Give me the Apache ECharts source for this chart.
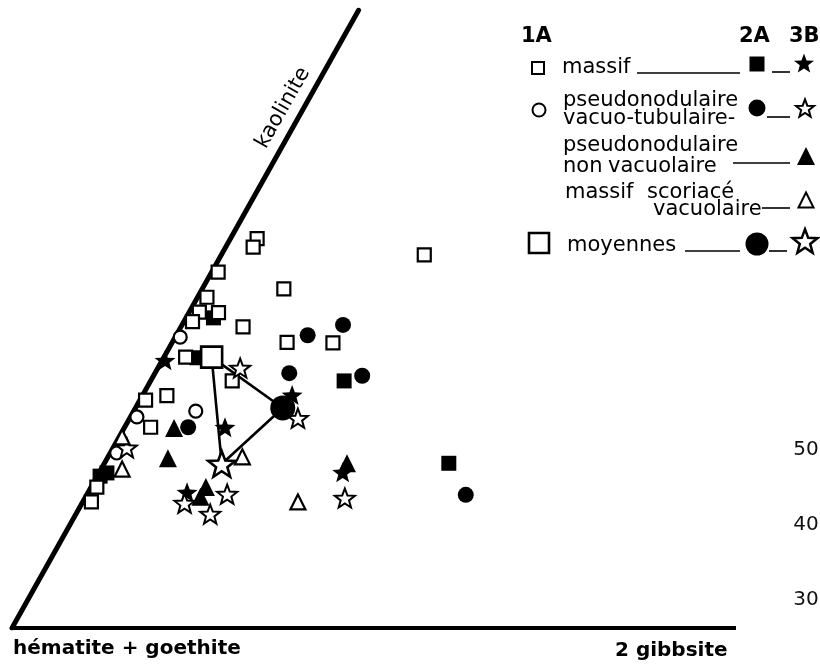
<!DOCTYPE html>
<html><head><meta charset="utf-8">
<script src="https://cdn.jsdelivr.net/npm/echarts@6.0.0/dist/echarts.min.js"></script>
<style>html,body{margin:0;padding:0;background:#fff}#c{width:820px;height:664px}</style>
</head><body><div id="c"></div>
<script>
// Values: [2 gibbsite %, kaolinite %]
const massif1A = [[3.7,60.5],[3.8,59.2],[0.9,55.3],[1.3,51.4],[1.4,49.1],[4.1,49.0],[1.2,47.6],[11.3,52.7],[8.6,46.8],[15.9,44.4],[22.3,44.3],[3.0,42.1],[11.3,38.4],[0.8,35.4],[3.4,36.1],[3.6,31.2],[0.8,21.9],[1.2,19.6],[28.1,58.0]];
const massif2A = [[3.8,48.2],[4.6,42.0],[26.8,38.4],[47.7,25.6],[1.1,24.1],[0.4,23.6]];
const massif3B = [[0.4,41.6],[13.9,31.2],[20.7,36.2],[33.7,24.2],[13.7,21.1]];
const pseudoVacuo1A = [[0.7,45.2],[8.6,33.7],[0.9,32.8],[0.9,27.2]];
const pseudoVacuo2A = [[18.2,45.5],[22.3,47.1],[18.6,39.6],[28.9,39.2],[8.8,31.2],[52.5,20.7]];
const pseudoVacuo3B = [[11.4,40.4],[23.3,32.6],[1.9,28.0],[14.2,19.4],[19.4,20.8],[18.6,17.7],[36.0,20.2]];
const pseudoNonVac2A = [[6.9,31.1],[8.4,26.4],[15.9,21.9],[15.9,20.4],[33.6,25.6]];
const scoriace2A = [[18.6,26.6],[29.8,19.6],[2.9,24.7],[0.4,29.7]];
const mean1A = [6.6,42.1];
const mean2A = [20.4,34.2];
const mean3B = [16.3,25.5];
const kaoliniteEdge = [[0,0],[0,96.0]];
const baseEdge = [[0,0],[100,0]];
const sideTicks = [30,40,50];

// ternary [G,K] -> cartesian [x,K]
const toXY = p => [p[0] + p[1] / 2, p[1]];

function starPoints(inner) {
  const pts = [];
  for (let i = 0; i < 10; i++) {
    const a = -Math.PI / 2 + i * Math.PI / 5;
    const r = i % 2 ? inner : 1;
    pts.push([r * Math.cos(a), r * Math.sin(a)]);
  }
  return pts;
}
const STAR = starPoints(0.42);
const starPath = 'path://' + STAR.map((p, i) => (i ? 'L' : 'M') + p[0].toFixed(3) + ' ' + p[1].toFixed(3)).join('') + 'Z';

const FONT = '"DejaVu Sans"';
const openStyle = w => ({color: '#fff', borderColor: '#000', borderWidth: w, opacity: 1});
const fillStyle = {color: '#000', borderWidth: 0, opacity: 1};

function sc(data, symbol, size, style, z) {
  return {type: 'scatter', xAxisIndex: 0, yAxisIndex: 0, data: data.map(toXY),
    symbol, symbolSize: size, symbolKeepAspect: true, itemStyle: style, z, silent: true};
}
function edge(data, w, cap) {
  return {type: 'line', xAxisIndex: 0, yAxisIndex: 0, data: data.map(toXY), symbol: 'none',
    lineStyle: {color: '#000', width: w, cap: cap, opacity: 1}, z: 1, silent: true};
}

// legend graphics
function gText(x, y, text, size, weight) {
  return {type: 'text', x, y, silent: true, style: {text, x: 0, y: 0, fill: '#000',
    font: (weight || 'normal') + ' ' + size + 'px ' + FONT,
    align: 'left', verticalAlign: 'middle', textAlign: 'left', textVerticalAlign: 'middle'}};
}
function gRect(cx, cy, s, open, lw) {
  return {type: 'rect', silent: true, shape: {x: cx - s / 2, y: cy - s / 2, width: s, height: s},
    style: open ? {fill: '#fff', stroke: '#000', lineWidth: lw} : {fill: '#000'}};
}
function gCircle(cx, cy, s, open, lw) {
  return {type: 'circle', silent: true, shape: {cx, cy, r: s / 2},
    style: open ? {fill: '#fff', stroke: '#000', lineWidth: lw} : {fill: '#000'}};
}
function gTri(cx, cy, s, open, lw) {
  return {type: 'polygon', silent: true, shape: {points: [[cx, cy - s / 2], [cx + s / 2, cy + s / 2], [cx - s / 2, cy + s / 2]]},
    style: open ? {fill: '#fff', stroke: '#000', lineWidth: lw, lineJoin: 'miter'} : {fill: '#000'}};
}
function gStar(cx, cy, s, open, lw) {
  const R = s / 2;
  return {type: 'polygon', silent: true, shape: {points: STAR.map(p => [cx + p[0] * R, cy + (p[1] + 0.095) * R])},
    style: open ? {fill: '#fff', stroke: '#000', lineWidth: lw, lineJoin: 'miter'} : {fill: '#000'}};
}
function gLine(x1, x2, y, w) {
  return {type: 'line', silent: true, shape: {x1, y1: y, x2, y2: y}, style: {stroke: '#000', lineWidth: w || 1.6}};
}

const legend = [
  gText(521, 37, '1A', 21, 'bold'), gText(739, 37, '2A', 21, 'bold'), gText(789, 37, '3B', 21, 'bold'),
  gRect(538, 68, 12, true, 2), gText(562, 68, 'massif', 21), gLine(637, 740, 73), gRect(757, 64, 15, false),
  gLine(772, 790, 72), gStar(804, 63, 21, false),
  gCircle(539, 110, 13, true, 2), gText(563, 101, 'pseudonodulaire', 21), gText(563, 119, 'vacuo-tubulaire-', 21),
  gCircle(757, 108, 17, false), gLine(767, 790, 117), gStar(805, 108, 19, true, 2),
  gText(563, 146, 'pseudonodulaire', 21), gText(563, 167, 'non', 21), gText(608, 167, 'vacuolaire', 21),
  gLine(733, 790, 163), gTri(806, 156, 18, false),
  gText(565, 193, 'massif', 21), gText(647, 193, 'scoriacé', 21), gText(653, 210, 'vacuolaire', 21),
  gLine(762, 790, 208), gTri(806, 200, 15, true, 2),
  gRect(539, 243, 20, true, 2.6), gText(567, 246, 'moyennes', 21), gLine(685, 740, 251),
  gCircle(757, 244, 23, false), gLine(769, 787, 251), gStar(805, 241, 26, true, 2.5),
  {type: 'text', x: 283, y: 108, rotation: 1.055, silent: true, style: {text: 'kaolinite', x: 0, y: 0, fill: '#000',
    font: 'normal 21px ' + FONT, align: 'center', verticalAlign: 'middle', textAlign: 'center', textVerticalAlign: 'middle'}},
  gText(13, 649, 'hématite + goethite', 20, 'bold'),
  gText(615, 651, '2 gibbsite', 20, 'bold')
];

const chart = echarts.init(document.getElementById('c'), null, {renderer: 'canvas'});
chart.setOption({
  animation: false,
  backgroundColor: '#fff',
  grid: [
    {left: 12, top: 0, width: 722, height: 628},
    {left: 790, top: 450, width: 5, height: 150}
  ],
  xAxis: [
    {type: 'value', gridIndex: 0, min: 0, max: 100, show: false},
    {type: 'value', gridIndex: 1, min: 0, max: 1, show: false}
  ],
  yAxis: [
    {type: 'value', gridIndex: 0, min: 0, max: 97.6, show: false},
    {type: 'value', gridIndex: 1, position: 'right', min: sideTicks[0], max: sideTicks[sideTicks.length - 1],
      interval: sideTicks[1] - sideTicks[0], axisLine: {show: false}, axisTick: {show: false}, splitLine: {show: false},
      axisLabel: {margin: 2, fontSize: 20, color: '#111', fontFamily: FONT}}
  ],
  series: [
    edge(kaoliniteEdge, 5, 'round'),
    edge(baseEdge, 4, 'square'),
    {type: 'line', xAxisIndex: 0, yAxisIndex: 0, data: [mean1A, mean2A, mean3B, mean1A].map(toXY), symbol: 'none',
      lineStyle: {color: '#000', width: 2.6, opacity: 1}, z: 2, silent: true},
    sc(massif2A, 'rect', 15, fillStyle, 3),
    sc(massif3B, starPath, 21, fillStyle, 3),
    sc(pseudoVacuo2A, 'circle', 16, fillStyle, 3),
    sc(pseudoNonVac2A, 'triangle', 18, fillStyle, 3),
    sc(massif1A, 'rect', 13, openStyle(2.2), 4),
    sc(pseudoVacuo1A, 'circle', 13, openStyle(2.2), 4),
    sc(pseudoVacuo3B, starPath, 20, openStyle(2), 4),
    sc(scoriace2A, 'triangle', 15, openStyle(2.2), 4),
    sc([mean1A], 'rect', 21, openStyle(2.6), 5),
    sc([mean2A], 'circle', 25, fillStyle, 5),
    sc([mean3B], starPath, 27, openStyle(2.6), 5)
  ],
  graphic: {elements: legend}
});
</script>
</body></html>
